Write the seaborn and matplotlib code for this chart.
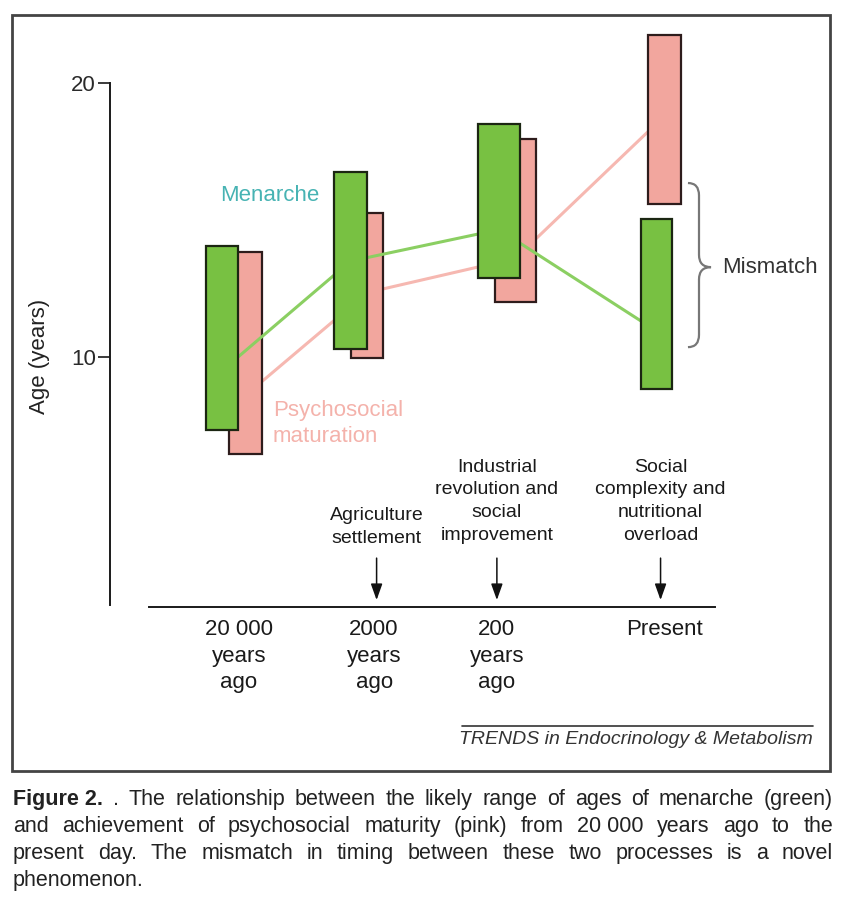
import matplotlib.pyplot as plt
import seaborn as sns
import pandas as pd
from matplotlib.patches import Rectangle, PathPatch
from matplotlib.path import Path
from matplotlib.lines import Line2D

# data (age in years)
periods = ["20 000\nyears\nago", "2000\nyears\nago", "200\nyears\nago", "Present"]
events = ["Agriculture\nsettlement",
          "Industrial\nrevolution and\nsocial\nimprovement",
          "Social\ncomplexity and\nnutritional\noverload"]

menarche_low = [7.35, 10.3, 12.9, 8.85]
menarche_high = [14.05, 16.75, 18.5, 15.05]
menarche_mid = [9.5, 13.5, 14.65, 10.95]

psycho_low = [6.45, 9.95, 12.0, 15.6]
psycho_high = [13.85, 15.25, 17.95, 21.75]
psycho_mid = [8.6, 12.35, 13.6, 18.8]

# layout, x in timeline units
label_x = [1.04, 2.13, 3.12, 4.47]
event_x = [2.15, 3.12, 4.44]
green_x = [0.903, 1.94, 3.137, 4.407]
pink_x = [1.093, 2.073, 3.27, 4.472]
green_w = [0.26, 0.266, 0.339, 0.25]
pink_w = [0.266, 0.258, 0.33, 0.266]

GREEN = "#78c142"
PINK = "#f2a69e"
GREEN_LINE = "#8bcf62"
PINK_LINE = "#f6b8b1"

W, H = 851, 911
sns.set_theme(style="white")
plt.rcParams["font.family"] = ["Liberation Sans", "DejaVu Sans"]

fig = plt.figure(figsize=(W / 100, H / 100), dpi=100)
fig.patch.set_facecolor("white")
ax = fig.add_axes([110 / W, 1 - 607 / H, 720 / W, 587 / H])
ax.set_facecolor("white")

df_m = pd.DataFrame({"x": green_x, "age": menarche_mid})
df_p = pd.DataFrame({"x": pink_x, "age": psycho_mid})

sns.lineplot(data=df_p, x="x", y="age", sort=False, estimator=None, color=PINK_LINE,
             linewidth=2.2, zorder=1, ax=ax)
ax.bar(pink_x, [h - l for h, l in zip(psycho_high, psycho_low)], bottom=psycho_low,
       width=pink_w, color=PINK, edgecolor="#2e1c1c", linewidth=1.6, zorder=2)
sns.lineplot(data=df_m, x="x", y="age", sort=False, estimator=None, color=GREEN_LINE,
             linewidth=2.2, zorder=3, ax=ax)
ax.bar(green_x, [h - l for h, l in zip(menarche_high, menarche_low)], bottom=menarche_low,
       width=green_w, color=GREEN, edgecolor="#1b2612", linewidth=1.6, zorder=4)

ax.set_xlim(0, 720 / 124)
ax.set_ylim(0.876, 22.3)

for s in ["top", "right"]:
    ax.spines[s].set_visible(False)
ax.spines["left"].set_bounds(0.95, 20)
ax.spines["bottom"].set_bounds(0.315, 4.88)
for s in ["left", "bottom"]:
    ax.spines[s].set_color("#1a1a1a")
    ax.spines[s].set_linewidth(1.4)

ax.set_yticks([10, 20])
ax.set_yticklabels(["10", "20"])
ax.tick_params(axis="y", left=True, length=9, width=1.2, pad=1, labelsize=16,
               color="#1a1a1a", labelcolor="#2a2a2a")
ax.set_xticks(label_x)
ax.set_xticklabels(periods, fontsize=16, color="#1a1a1a", linespacing=1.36)
ax.tick_params(axis="x", bottom=False, length=0, pad=8.5)
ax.set_xlabel("")
ax.set_ylabel("")
ax.text(-70 / 720, (607 - 356) / 587, "Age (years)", transform=ax.transAxes, rotation=90,
        ha="center", va="center", fontsize=16, color="#222222")

# series labels
ax.text(1.29, 15.91, "Menarche", ha="center", va="center", fontsize=16, color="#47b3b3")
ax.text(1.315, 7.57, "Psychosocial\nmaturation", ha="left", va="center", fontsize=16,
        color="#f4b2ab", linespacing=1.36)

# events with arrows
event_y = [3.80, 4.73, 4.73]
for x, txt, y in zip(event_x, events, event_y):
    ax.text(x, y, txt, ha="center", va="center", fontsize=14, color="#1a1a1a",
            linespacing=1.45)
    ax.annotate("", xy=(x, 1.13), xytext=(x, 2.66),
                arrowprops=dict(arrowstyle="-|>,head_width=0.25,head_length=0.7",
                                color="#111111", lw=1.1, mutation_scale=14,
                                shrinkA=0, shrinkB=0))

# mismatch brace
x0, xm, xt = 4.661, 4.75, 4.847
yt, ymid, yb, r = 16.35, 13.28, 10.36, 0.45
verts = [(x0, yt), (xm, yt), (xm, yt - r), (xm, ymid + r), (xm, ymid), (xt, ymid),
         (xm, ymid), (xm, ymid - r), (xm, yb + r), (xm, yb), (x0, yb)]
codes = [Path.MOVETO, Path.CURVE3, Path.CURVE3, Path.LINETO, Path.CURVE3, Path.CURVE3,
         Path.CURVE3, Path.CURVE3, Path.LINETO, Path.CURVE3, Path.CURVE3]
ax.add_patch(PathPatch(Path(verts, codes), fill=False, edgecolor="#777777", lw=1.6,
                       clip_on=False, zorder=5))
ax.text(4.935, 13.28, "Mismatch", ha="left", va="center", fontsize=16, color="#333333")

# source line
fig.add_artist(Line2D([462 / W, 813 / W], [1 - 726 / H] * 2, color="#333333", lw=1.2))
fig.text(813 / W, 1 - 739 / H, "TRENDS in Endocrinology & Metabolism", ha="right",
         va="center", fontsize=14, style="italic", color="#333333")

# frame around the figure panel
fig.add_artist(Rectangle((12 / W, 1 - 771 / H), 818 / W, 756 / H, fill=False, lw=2,
                         edgecolor="#444444", transform=fig.transFigure))

# caption, justified
cap_fs = 15.5
caption = [
    [("Figure 2.", "bold"), (".", "normal")] + [(w, "normal") for w in
     "The relationship between the likely range of ages of menarche (green)".split()],
    [(w, "normal") for w in "and achievement of psychosocial maturity (pink) from".split()]
    + [("20 000", "normal")] + [(w, "normal") for w in "years ago to the".split()],
    [(w, "normal") for w in
     "present day. The mismatch in timing between these two processes is a novel".split()],
    [("phenomenon.", "normal")],
]
baselines = [805, 832, 859, 886]
renderer = fig.canvas.get_renderer()
for words, yb_px in zip(caption, baselines):
    texts = [fig.text(0, 1 - yb_px / H, w, fontsize=cap_fs, fontweight=wt, ha="left",
                      va="baseline", color="#222222") for w, wt in words]
    widths = [t.get_window_extent(renderer).width for t in texts]
    if len(texts) > 1:
        gap = (833 - 13 - sum(widths)) / (len(texts) - 1)
    else:
        gap = 0
    xpos = 13
    for t, wd in zip(texts, widths):
        t.set_x(xpos / W)
        xpos += wd + gap

fig.savefig("out.png", dpi=100)
